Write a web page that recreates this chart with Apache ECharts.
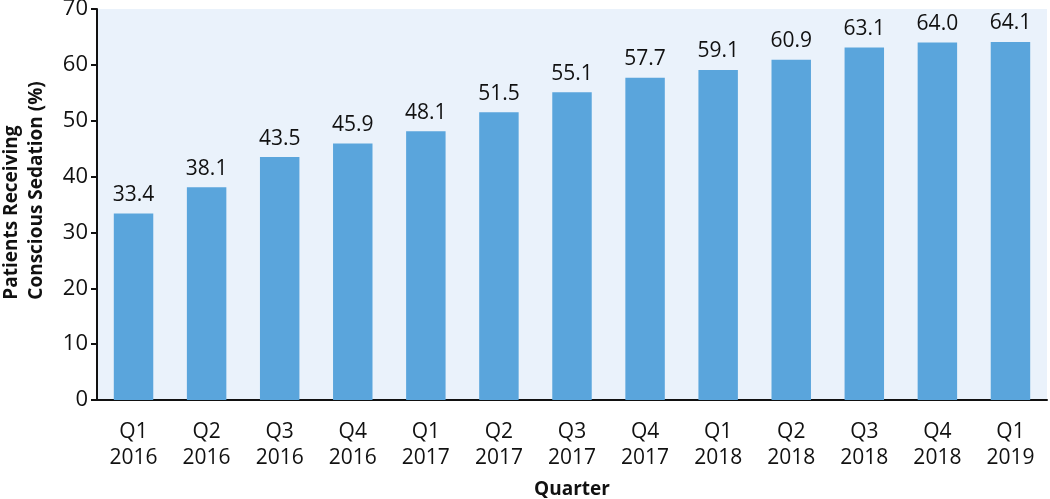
<!DOCTYPE html>
<html><head><meta charset="utf-8">
<script src="https://cdn.jsdelivr.net/npm/echarts@6/dist/echarts.min.js"></script>
<style>html,body{margin:0;padding:0;background:#fff}#c{width:1050px;height:499px}</style>
</head><body><div id="c"></div>
<script>
const categories = ["Q1\n2016","Q2\n2016","Q3\n2016","Q4\n2016","Q1\n2017","Q2\n2017","Q3\n2017","Q4\n2017","Q1\n2018","Q2\n2018","Q3\n2018","Q4\n2018","Q1\n2019"];
const values = [33.4,38.1,43.5,45.9,48.1,51.5,55.1,57.7,59.1,60.9,63.1,64.0,64.1];
const yTicks = [0,10,20,30,40,50,60,70];
const yTitleLines = ['Patients Receiving','Conscious Sedation (%)'];
const font = "'Open Sans', 'Noto Sans', sans-serif";
const titleRich = {fontFamily:font,fontWeight:'bold',fontSize:19,color:'#111',lineHeight:25,align:'left'};
const chart = echarts.init(document.getElementById('c'), null, {renderer:'canvas'});
chart.setOption({
  animation:false,
  grid:{left:97,right:3,top:9,bottom:99,show:true,backgroundColor:'#eaf2fb',borderWidth:0,containLabel:false,outerBoundsMode:'none'},
  xAxis:{type:'category',data:categories,
    name:'Quarter',nameLocation:'middle',nameGap:80,
    nameTextStyle:{fontFamily:font,fontWeight:'bold',fontSize:19,color:'#111'},
    axisLine:{lineStyle:{color:'#111',width:2}},
    axisTick:{show:false},
    axisLabel:{fontFamily:font,fontSize:21,color:'#111',margin:19,lineHeight:26}},
  yAxis:{type:'value',min:0,max:70,interval:10,
    name:yTitleLines.map(s=>'{t|'+s+'}').join('\n'),nameLocation:'middle',nameGap:48,
    nameTextStyle:{fontFamily:font,fontWeight:'bold',fontSize:19,color:'#111',lineHeight:25,
      padding:[0,0,0,28],rich:{t:titleRich}},
    axisLine:{show:true,lineStyle:{color:'#111',width:2}},
    axisTick:{show:true,length:6,lineStyle:{color:'#111',width:2}},
    splitLine:{show:false},
    axisLabel:{fontFamily:font,fontSize:22,color:'#111',margin:9,
      formatter:v=>yTicks.includes(v)?String(v):''}},
  series:[{type:'bar',data:values,barWidth:'54%',
    itemStyle:{color:'#5aa5dc'},
    label:{show:true,position:'top',distance:8,fontFamily:font,fontSize:21,color:'#111',
      formatter:p=>p.value.toFixed(1)}}]
});
</script></body></html>
